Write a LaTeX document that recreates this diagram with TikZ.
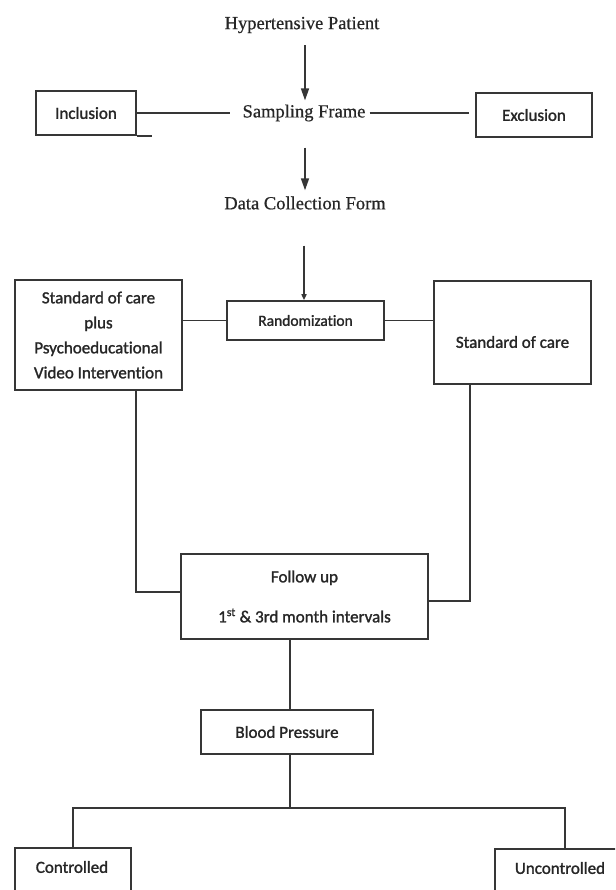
\documentclass[tikz,border=0pt]{standalone}
\usepackage{fontspec}
\setmainfont{Liberation Serif}[FakeBold=0.6]
\newfontfamily\boxfont{Carlito}[RawFeature=-liga, FakeBold=1.4]
\usetikzlibrary{arrows.meta,calc}
\definecolor{ink}{HTML}{363636}
\definecolor{txt}{HTML}{262626}
\begin{document}
\begin{tikzpicture}[x=1pt,y=-1pt,
  line/.style={draw=ink, line width=1.6pt},
  box/.style={draw=ink, line width=1.6pt, fill=white, text=txt, align=center, inner sep=0pt,
    font=\boxfont\fontsize{17}{25}\selectfont},
  btext/.style={text=txt, inner sep=0pt, font=\boxfont\fontsize{17}{25}\selectfont},
  serif/.style={text=txt, inner sep=0pt, font=\fontsize{18.5}{22}\selectfont},
  arr/.style={line, -{Triangle[length=12pt,width=8pt]}},
  sarr/.style={line, -{Triangle[length=6pt,width=5pt]}},
]
\clip (0,0) rectangle (615,890);
\fill[white] (0,0) rectangle (615,890);

% top text nodes
\node[serif] (hp) at (302,25) {Hypertensive Patient};
\node[serif] (sf) at (304,113) {Sampling Frame};
\node[serif] (dcf) at (305,203) {Data Collection Form};

% boxes
\node[box, minimum width=100, minimum height=44] (incl) at (86,113) {Inclusion};
\node[box, minimum width=116, minimum height=44] (excl) at (534,115) {Exclusion};
\node[box, minimum width=167, minimum height=110] (lbox) at (98.5,335)
  {Standard of care\\plus\\Psychoeducational\\Video Intervention};
\node[box, minimum width=157, minimum height=39,
  font=\boxfont\fontsize{15.5}{18}\selectfont] (rand) at (305.5,320.5) {Randomization};
\node[box, minimum width=157, minimum height=103] (rbox) at (512.5,332.5) {};
\node[btext] (rtxt) at (512.5,342) {Standard of care};
\node[box, minimum width=247, minimum height=85] (fu) at (304.5,596.5)
  {Follow up\\[15pt]1\textsuperscript{st} \& 3rd month intervals};
\node[box, minimum width=172, minimum height=44] (bp) at (287,732) {Blood Pressure};
\node[box, minimum width=116, minimum height=60] (ctrl) at (73,878) {};
\node[btext] (ctxt) at (72,867) {Controlled};
\node[box, minimum width=140, minimum height=60] (unc) at (565,879) {};
\node[btext] (utxt) at (560,868) {Uncontrolled};

% connectors
\coordinate (a1) at ([xshift=3pt,yshift=-12pt]hp.south);
\draw[arr] (a1) -- ([yshift=4pt]a1 |- sf.north);
\coordinate (a2) at ([xshift=1pt,yshift=-26pt]sf.south);
\draw[arr] (a2) -- ([yshift=6pt]a2 |- dcf.north);
\coordinate (a3) at ([xshift=-1pt,yshift=-36pt]dcf.south);
\draw[sarr] (a3) -- (a3 |- rand.north);

\draw[line] (incl.east) -- ([xshift=-12pt]sf.west);
\draw[line] (incl.south east) -- ++(15,0);
\draw[line] ([xshift=4pt]sf.east) -- ([xshift=-6pt]excl.west |- sf.east);

\draw[line] (rand.west) -- (rand.west -| lbox.east);
\draw[line] (rand.east) -- (rand.east -| rbox.west);

\draw[line] ($(lbox.south)+(37.5,0)$) |- ([yshift=4.5pt]fu.west);
\draw[line] ($(rbox.south)+(-42.5,0)$) |- ([yshift=-4.5pt]fu.east);

\draw[line] ([xshift=-14.5pt]fu.south) -- ([xshift=-14.5pt]fu.south |- bp.north);
\coordinate (split) at (290,808);
\draw[line] ([xshift=3pt]bp.south) -- (split);
\draw[line] (ctrl.north) |- (split) -| (unc.north);
\end{tikzpicture}
\end{document}
